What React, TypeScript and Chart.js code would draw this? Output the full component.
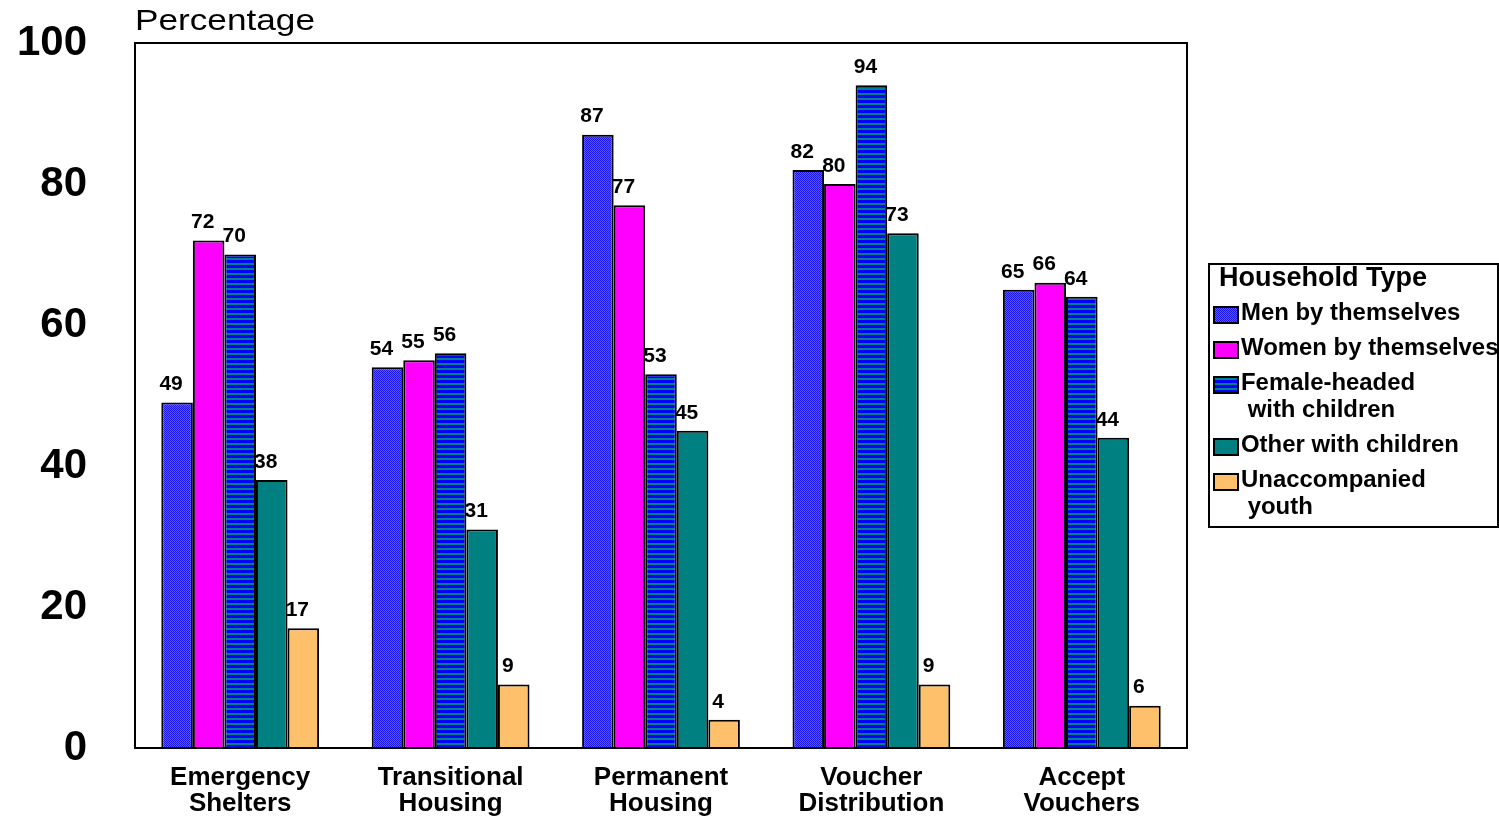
import { useEffect, useRef } from "react";
import { Chart, registerables } from "chart.js";

Chart.register(...registerables);

// Categories (two-line labels) and household types
const categories = [
  ["Emergency", "Shelters"],
  ["Transitional", "Housing"],
  ["Permanent", "Housing"],
  ["Voucher", "Distribution"],
  ["Accept", "Vouchers"],
];
const seriesNames = [
  ["Men by themselves"],
  ["Women by themselves"],
  ["Female-headed", " with children"],
  ["Other with children"],
  ["Unaccompanied", " youth"],
];

// Percentages by household type
const menByThemselves = [49, 54, 87, 82, 65];
const womenByThemselves = [72, 55, 77, 80, 66];
const femaleHeaded = [70, 56, 53, 94, 64];
const otherWithChildren = [38, 31, 45, 73, 44];
const unaccompaniedYouth = [17, 9, 4, 9, 6];

const yTicks = [0, 20, 40, 60, 80, 100];
const yTitle = "Percentage";
const legendTitle = "Household Type";

const FONT = "'Liberation Sans', Arial, Helvetica, sans-serif";

function makeCheckerPattern(ctx: CanvasRenderingContext2D) {
  const c = document.createElement("canvas");
  c.width = 2;
  c.height = 2;
  const p = c.getContext("2d")!;
  p.fillStyle = "#1a14ff";
  p.fillRect(0, 0, 2, 2);
  p.fillStyle = "#9a3cff";
  p.fillRect(1, 0, 1, 1);
  p.fillRect(0, 1, 1, 1);
  return ctx.createPattern(c, "repeat")!;
}

function makeStripePattern(ctx: CanvasRenderingContext2D) {
  const c = document.createElement("canvas");
  c.width = 4;
  c.height = 5;
  const p = c.getContext("2d")!;
  p.fillStyle = "#0000ff";
  p.fillRect(0, 0, 4, 5);
  p.fillStyle = "#00808a";
  p.fillRect(0, 3, 4, 2);
  return ctx.createPattern(c, "repeat")!;
}

export default function App() {
  const ref = useRef<HTMLCanvasElement | null>(null);

  useEffect(() => {
    const canvas = ref.current!;
    const ctx0 = canvas.getContext("2d")!;
    const menFill = makeCheckerPattern(ctx0);
    const femaleFill = makeStripePattern(ctx0);
    const fills: (string | CanvasPattern)[] = [menFill, "#ff00ff", femaleFill, "#008080", "#ffc06c"];
    const values = [menByThemselves, womenByThemselves, femaleHeaded, otherWithChildren, unaccompaniedYouth];

    const framePlugin = {
      id: "frame",
      afterDatasetsDraw(chart: any) {
        const { ctx, chartArea } = chart;
        ctx.save();
        ctx.strokeStyle = "#000";
        ctx.lineWidth = 2;
        ctx.strokeRect(chartArea.left, chartArea.top, chartArea.right - chartArea.left, chartArea.bottom - chartArea.top);
        ctx.restore();
      },
    };

    // Large y tick labels, drawn at the scale's own pixel positions
    const yLabels = {
      id: "yLabels",
      afterDraw(chart: any) {
        const ctx = chart.ctx;
        const scale = chart.scales.y;
        ctx.save();
        ctx.font = `bold 42px ${FONT}`;
        ctx.fillStyle = "#000";
        ctx.textAlign = "right";
        ctx.textBaseline = "middle";
        yTicks.forEach((v) => {
          ctx.fillText(String(v), chart.chartArea.left - 48, scale.getPixelForValue(v));
        });
        ctx.restore();
      },
    };

    const valueLabels = {
      id: "valueLabels",
      afterDatasetsDraw(chart: any) {
        const ctx = chart.ctx;
        ctx.save();
        ctx.font = `bold 21px ${FONT}`;
        ctx.fillStyle = "#000";
        ctx.textAlign = "center";
        ctx.textBaseline = "middle";
        chart.data.datasets.forEach((ds: any, di: number) => {
          chart.getDatasetMeta(di).data.forEach((el: any, i: number) => {
            const { x, y } = el.getProps(["x", "y"], true);
            ctx.fillText(String(ds.data[i]), x - 6, y - 18);
          });
        });
        ctx.restore();
      },
    };

    const titlePlugin = {
      id: "yTitle",
      afterDraw(chart: any) {
        const ctx = chart.ctx;
        ctx.save();
        ctx.font = `30px ${FONT}`;
        ctx.fillStyle = "#000";
        ctx.textBaseline = "alphabetic";
        const w = ctx.measureText(yTitle).width;
        ctx.translate(chart.chartArea.left, 30);
        ctx.scale(180 / w, 1);
        ctx.fillText(yTitle, 0, 0);
        ctx.restore();
      },
    };

    const legendPlugin = {
      id: "householdLegend",
      afterDraw(chart: any) {
        const ctx = chart.ctx;
        const left = chart.chartArea.right + 22;
        ctx.save();
        ctx.strokeStyle = "#000";
        ctx.lineWidth = 2;
        ctx.strokeRect(left, 264, 1498 - left, 263);
        ctx.fillStyle = "#000";
        ctx.textBaseline = "middle";
        ctx.font = `bold 27px ${FONT}`;
        ctx.fillText(legendTitle, left + 10, 279);
        ctx.font = `bold 23px ${FONT}`;
        let y = 314;
        chart.data.datasets.forEach((ds: any, di: number) => {
          ctx.fillStyle = ds.backgroundColor;
          ctx.fillRect(left + 5, y - 7, 24, 16);
          ctx.strokeStyle = "#000";
          ctx.lineWidth = 2;
          ctx.strokeRect(left + 5, y - 7, 24, 16);
          ctx.fillStyle = "#000";
          const lines = seriesNames[di];
          lines.forEach((line, li) => {
            ctx.save();
            ctx.translate(left + 32, y);
            ctx.scale(1.04, 1);
            ctx.fillText(line, 0, 0);
            ctx.restore();
            if (li < lines.length - 1) y += 27;
          });
          y += 35;
        });
        ctx.restore();
      },
    };

    const chart = new Chart(canvas, {
      type: "bar",
      data: {
        labels: categories,
        datasets: values.map((v, i) => ({
          label: seriesNames[i].join(""),
          data: v,
          backgroundColor: fills[i],
          borderColor: "#000",
          borderWidth: 2,
          categoryPercentage: 0.75,
          barPercentage: 1.0,
        })),
      },
      options: {
        animation: false,
        responsive: false,
        devicePixelRatio: 1,
        layout: { padding: { top: 43, right: 312, bottom: 0, left: 0 } },
        plugins: {
          legend: { display: false },
          tooltip: { enabled: false },
        },
        scales: {
          x: {
            grid: { display: false, drawTicks: false },
            border: { display: false },
            ticks: {
              color: "#000",
              font: { family: FONT, size: 26, weight: "bold", lineHeight: 1.0 },
              padding: 17,
              maxRotation: 0,
              autoSkip: false,
            },
            afterFit(scale: any) {
              scale.height = 74;
            },
          },
          y: {
            min: 0,
            max: 100,
            grid: { display: false, drawTicks: false },
            border: { display: false },
            ticks: { display: false },
            afterBuildTicks(scale: any) {
              scale.ticks = yTicks.map((v) => ({ value: v }));
            },
            afterFit(scale: any) {
              scale.width = 135;
            },
          },
        },
      },
      plugins: [framePlugin, valueLabels, yLabels, titlePlugin, legendPlugin],
    });

    return () => chart.destroy();
  }, []);

  return (
    <div style={{ position: "absolute", left: 0, top: 0, width: 1499, height: 822, background: "#fff" }}>
      <canvas ref={ref} width={1499} height={822} style={{ display: "block" }} />
    </div>
  );
}
